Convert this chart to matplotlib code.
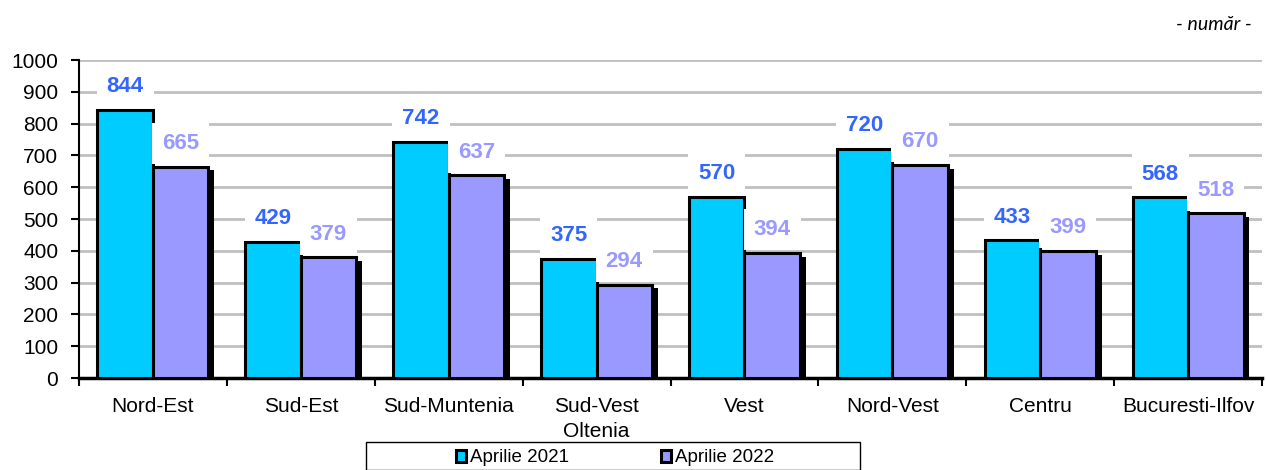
import matplotlib
matplotlib.use("Agg")
import matplotlib.pyplot as plt
from matplotlib.patches import Rectangle
import numpy as np

plt.rcParams["font.family"] = ["Liberation Sans", "DejaVu Sans"]

regions = ["Nord-Est", "Sud-Est", "Sud-Muntenia", "Sud-Vest\nOltenia", "Vest",
           "Nord-Vest", "Centru", "Bucuresti-Ilfov"]
apr_2021 = [844, 429, 742, 375, 570, 720, 433, 568]
apr_2022 = [665, 379, 637, 294, 394, 670, 399, 518]
series_names = ["Aprilie 2021", "Aprilie 2022"]

c21, c22 = "#00CCFF", "#9999FF"
t21, t22 = "#3366FF", "#9999FF"

fig = plt.figure(figsize=(12.66, 4.70), dpi=100)
ax = fig.add_axes([79/1266, 1-378/470, (1262-79)/1266, (378-60)/470])

x = np.arange(len(regions))
w = 0.375

# shadow under the bars
ax.bar(x + w/2 + 0.04, np.array(apr_2022) - 12, w, color="black", zorder=2)
b1 = ax.bar(x - w/2, apr_2021, w, color=c21, edgecolor="black", lw=2.2, zorder=3,
            label=series_names[0])
b2 = ax.bar(x + w/2, apr_2022, w, color=c22, edgecolor="black", lw=2.2, zorder=3,
            label=series_names[1])

for xi, v in zip(x, apr_2021):
    ax.text(xi - w/2, v + 73, str(v), ha="center", va="center", fontsize=16,
            fontweight="bold", color=t21, zorder=5,
            bbox=dict(boxstyle="square,pad=0.45", fc="white", ec="none"))
for xi, v in zip(x, apr_2022):
    ax.text(xi + w/2, v + 73, str(v), ha="center", va="center", fontsize=16,
            fontweight="bold", color=t22, zorder=5,
            bbox=dict(boxstyle="square,pad=0.45", fc="white", ec="none"))

ax.set_xlim(-0.5, len(regions) - 0.5)
ax.set_ylim(0, 1000)
ax.set_yticks(np.arange(0, 1001, 100))
ax.yaxis.grid(True, color="#c0c0c0", lw=2, zorder=0)
ax.set_axisbelow(True)
ax.set_xticks(x)
ax.set_xticklabels(regions, fontsize=15, linespacing=1.35)
ax.set_xticks(np.arange(-0.5, len(regions)), minor=True)
ax.tick_params(axis="x", which="major", length=0, pad=14)
ax.tick_params(axis="x", which="minor", length=6, width=1.5, direction="out")
ax.tick_params(axis="y", length=6, width=1.5, labelsize=15, pad=9)
for s in ["top", "right"]:
    ax.spines[s].set_visible(False)
ax.spines["left"].set_linewidth(1.5)
ax.spines["bottom"].set_linewidth(2.5)

fig.text(1252/1266, 1-24/470, "- număr -", ha="right", va="center",
         fontsize=14, style="italic", family=["Lato", "DejaVu Sans"])

# legend box (frame drawn separately, content centered in it)
fig.patches.append(Rectangle((366/1266, 0), (860-366)/1266, 1-442/470,
                             transform=fig.transFigure, fc="white", ec="black",
                             lw=1, zorder=9))
leg = fig.legend(handles=[b1, b2], loc="center",
                 bbox_to_anchor=(615/1266, 1-458/470), ncol=2,
                 fontsize=13.5, frameon=False, handlelength=0.55,
                 handleheight=0.55, handletextpad=0.2, borderpad=0.1,
                 columnspacing=4.9)
leg.set_zorder(10)

fig.savefig("out.png", dpi=100)
